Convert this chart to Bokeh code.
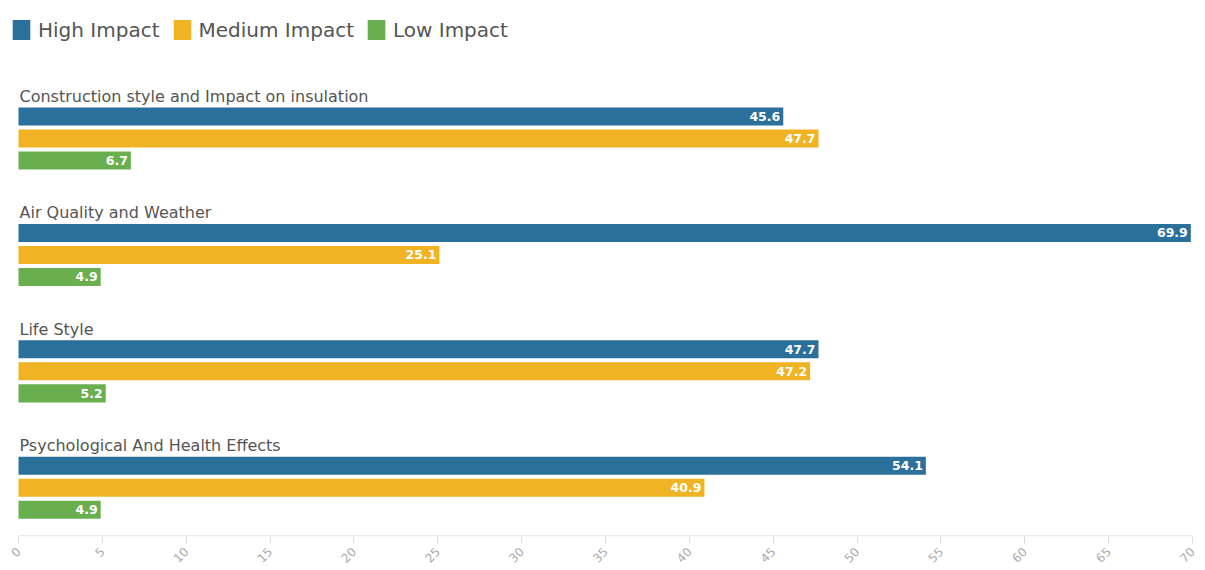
import math
from bokeh.plotting import figure
from bokeh.models import Range1d, ColumnDataSource, Legend, LegendItem, FixedTicker, LabelSet
from bokeh.core.properties import value
from bokeh.embed import file_html
from bokeh.resources import INLINE

categories = ["Construction style and Impact on insulation", "Air Quality and Weather",
              "Life Style", "Psychological And Health Effects"]
series_names = ["High Impact", "Medium Impact", "Low Impact"]
high = [45.6, 69.9, 47.7, 54.1]
medium = [47.7, 25.1, 47.2, 40.9]
low = [6.7, 4.9, 5.2, 4.9]
colors = ["#2b6f9b", "#f0b323", "#6aaf4f"]
ticks = list(range(0, 75, 5))

FONT = "DejaVu Sans"
unit = 116.3  # px per group
pitch = 22.0 / unit
bar_h = 18.0 / unit
px_per_x = 1174.0 / 70.0
x_start = -18.0 / px_per_x
y_bottom = 3.608

p = figure(width=1205, height=570, output_backend="svg", toolbar_location=None,
           x_range=Range1d(x_start, 70), y_range=Range1d(y_bottom, -0.997),
           min_border_left=0, min_border_right=13, min_border_top=0, min_border_bottom=34)
p.outline_line_color = None
p.background_fill_color = "white"
p.border_fill_color = "white"
p.grid.visible = False
p.yaxis.visible = False

# axis baseline from 0 to the last tick
p.segment(x0=[ticks[0]], y0=[y_bottom - 0.6 / unit], x1=[ticks[-1]], y1=[y_bottom - 0.6 / unit],
          line_color="#e6e6e6", line_width=1.2)

legend_renderers = []
for s, (name, vals, col) in enumerate(zip(series_names, [high, medium, low], colors)):
    ys = [i + s * pitch for i in range(len(categories))]
    src = ColumnDataSource(dict(y=ys, right=vals, lab=[f"{v:.1f}" for v in vals]))
    p.hbar(y="y", left=0, right="right", height=bar_h, source=src, color=col, line_color=None)
    # off-screen swatch used only for the legend
    lr = p.rect(x=[-50], y=[0], width=1, height=0.1, fill_color=col, line_color=None)
    legend_renderers.append(lr)
    p.add_layout(LabelSet(x="right", y="y", text="lab", source=src, x_offset=-3,
                          text_align="right", text_baseline="middle", text_color="white",
                          text_font=value(FONT), text_font_size="12.5px", text_font_style="bold"))

csrc = ColumnDataSource(dict(x=[0] * len(categories), y=[i - 20.0 / unit for i in range(len(categories))],
                             t=categories))
p.text(x="x", y="y", text="t", source=csrc, text_font=value(FONT), text_font_size="16px",
       text_color="#555555", text_baseline="middle", text_align="left", x_offset=1)

xa = p.xaxis[0]
xa.ticker = FixedTicker(ticks=ticks)
xa.axis_line_color = None
xa.major_tick_line_color = "#dddddd"
xa.major_tick_out = 7
xa.major_tick_in = 0
xa.minor_tick_line_color = None
xa.major_label_orientation = math.pi / 4
xa.major_label_text_color = "#aaaaaa"
xa.major_label_text_font = FONT
xa.major_label_text_font_size = "12px"
xa.major_label_standoff = 6

legend = Legend(items=[LegendItem(label=n, renderers=[r]) for n, r in zip(series_names, legend_renderers)],
                orientation="horizontal", location=(10, 494))
legend.label_text_font = FONT
legend.label_text_font_size = "20px"
legend.label_text_color = "#555555"
legend.glyph_width = 22
legend.glyph_height = 25
legend.label_standoff = 6
legend.spacing = 11
legend.padding = 0
legend.margin = 0
legend.border_line_color = None
legend.background_fill_alpha = 0
p.add_layout(legend)

open("out.html", "w").write(file_html(p, INLINE))
